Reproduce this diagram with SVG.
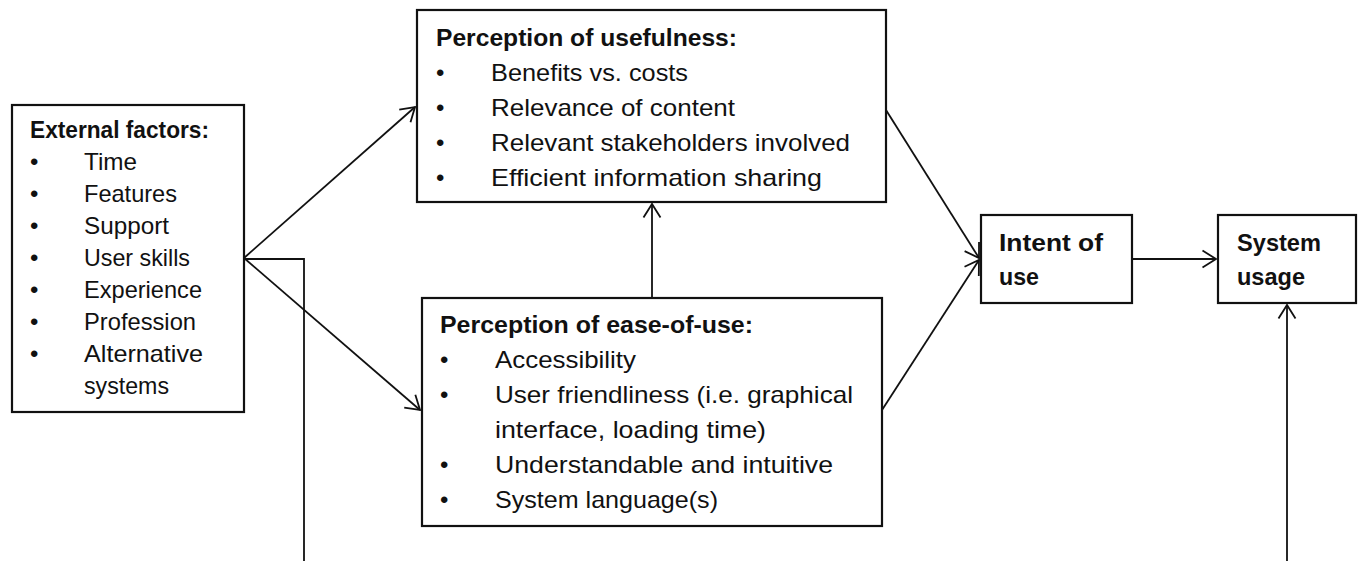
<svg xmlns="http://www.w3.org/2000/svg" width="1359" height="561" viewBox="0 0 1359 561">
<style>
.box{fill:#fff;stroke:#111;stroke-width:2.2}
.t{font-family:"Liberation Sans",Arial,sans-serif;font-size:24px;fill:#111}
.b{font-weight:bold}
.c{fill:none;stroke:#111;stroke-width:1.8}
</style>
<defs>
<marker id="arr" markerUnits="userSpaceOnUse" markerWidth="18" markerHeight="22" refX="15" refY="11" orient="auto">
<path d="M1.5,2.5 L15,11 L1.5,19.5" fill="none" stroke="#111" stroke-width="1.8"/>
</marker>
</defs>
<rect width="1359" height="561" fill="#fff"/>
<g id="connectors">
<line class="c" x1="244" y1="258" x2="415" y2="107" marker-end="url(#arr)"/>
<line class="c" x1="244" y1="258" x2="420" y2="410" marker-end="url(#arr)"/>
<polyline class="c" points="244,259 304,259 304,561"/>
<line class="c" x1="652" y1="298" x2="652" y2="204" marker-end="url(#arr)"/>
<line class="c" x1="886" y1="110" x2="979" y2="258" marker-end="url(#arr)"/>
<line class="c" x1="882" y1="410" x2="979" y2="260" marker-end="url(#arr)"/>
<line class="c" x1="1132" y1="259" x2="1216" y2="259" marker-end="url(#arr)"/>
<line class="c" x1="1287" y1="561" x2="1287" y2="305" marker-end="url(#arr)"/>
</g>
<g id="external">
<rect class="box" x="12" y="105" width="232" height="307"/>
<text class="t b" x="30" y="138" textLength="179" lengthAdjust="spacingAndGlyphs">External factors:</text>
<text class="t" x="30" y="170">•</text><text class="t" x="84" y="170" textLength="53" lengthAdjust="spacingAndGlyphs">Time</text>
<text class="t" x="30" y="202">•</text><text class="t" x="84" y="202" textLength="93" lengthAdjust="spacingAndGlyphs">Features</text>
<text class="t" x="30" y="234">•</text><text class="t" x="84" y="234" textLength="85" lengthAdjust="spacingAndGlyphs">Support</text>
<text class="t" x="30" y="266">•</text><text class="t" x="84" y="266" textLength="106" lengthAdjust="spacingAndGlyphs">User skills</text>
<text class="t" x="30" y="298">•</text><text class="t" x="84" y="298" textLength="118" lengthAdjust="spacingAndGlyphs">Experience</text>
<text class="t" x="30" y="330">•</text><text class="t" x="84" y="330" textLength="112" lengthAdjust="spacingAndGlyphs">Profession</text>
<text class="t" x="30" y="362">•</text><text class="t" x="84" y="362" textLength="119" lengthAdjust="spacingAndGlyphs">Alternative</text>
<text class="t" x="84" y="394" textLength="85" lengthAdjust="spacingAndGlyphs">systems</text>
</g>
<g id="usefulness">
<rect class="box" x="417" y="10" width="469" height="192"/>
<text class="t b" x="436" y="46" textLength="301" lengthAdjust="spacingAndGlyphs">Perception of usefulness:</text>
<text class="t" x="436" y="81">•</text><text class="t" x="491" y="81" textLength="197" lengthAdjust="spacingAndGlyphs">Benefits vs. costs</text>
<text class="t" x="436" y="116">•</text><text class="t" x="491" y="116" textLength="244" lengthAdjust="spacingAndGlyphs">Relevance of content</text>
<text class="t" x="436" y="151">•</text><text class="t" x="491" y="151" textLength="359" lengthAdjust="spacingAndGlyphs">Relevant stakeholders involved</text>
<text class="t" x="436" y="186">•</text><text class="t" x="491" y="186" textLength="331" lengthAdjust="spacingAndGlyphs">Efficient information sharing</text>
</g>
<g id="ease">
<rect class="box" x="422" y="298" width="460" height="228"/>
<text class="t b" x="440" y="333" textLength="313" lengthAdjust="spacingAndGlyphs">Perception of ease-of-use:</text>
<text class="t" x="440" y="368">•</text><text class="t" x="495" y="368" textLength="141" lengthAdjust="spacingAndGlyphs">Accessibility</text>
<text class="t" x="440" y="403">•</text><text class="t" x="495" y="403" textLength="358" lengthAdjust="spacingAndGlyphs">User friendliness (i.e. graphical</text>
<text class="t" x="495" y="438" textLength="271" lengthAdjust="spacingAndGlyphs">interface, loading time)</text>
<text class="t" x="440" y="473">•</text><text class="t" x="495" y="473" textLength="338" lengthAdjust="spacingAndGlyphs">Understandable and intuitive</text>
<text class="t" x="440" y="508">•</text><text class="t" x="495" y="508" textLength="223" lengthAdjust="spacingAndGlyphs">System language(s)</text>
</g>
<g id="intent">
<rect class="box" x="981" y="215" width="151" height="88"/>
<text class="t b" x="999" y="251" textLength="104" lengthAdjust="spacingAndGlyphs">Intent of</text>
<text class="t b" x="999" y="285" textLength="40" lengthAdjust="spacingAndGlyphs">use</text>
</g>
<g id="usage">
<rect class="box" x="1218" y="215" width="138" height="88"/>
<text class="t b" x="1237" y="251" textLength="84" lengthAdjust="spacingAndGlyphs">System</text>
<text class="t b" x="1237" y="285" textLength="68" lengthAdjust="spacingAndGlyphs">usage</text>
</g>
</svg>
